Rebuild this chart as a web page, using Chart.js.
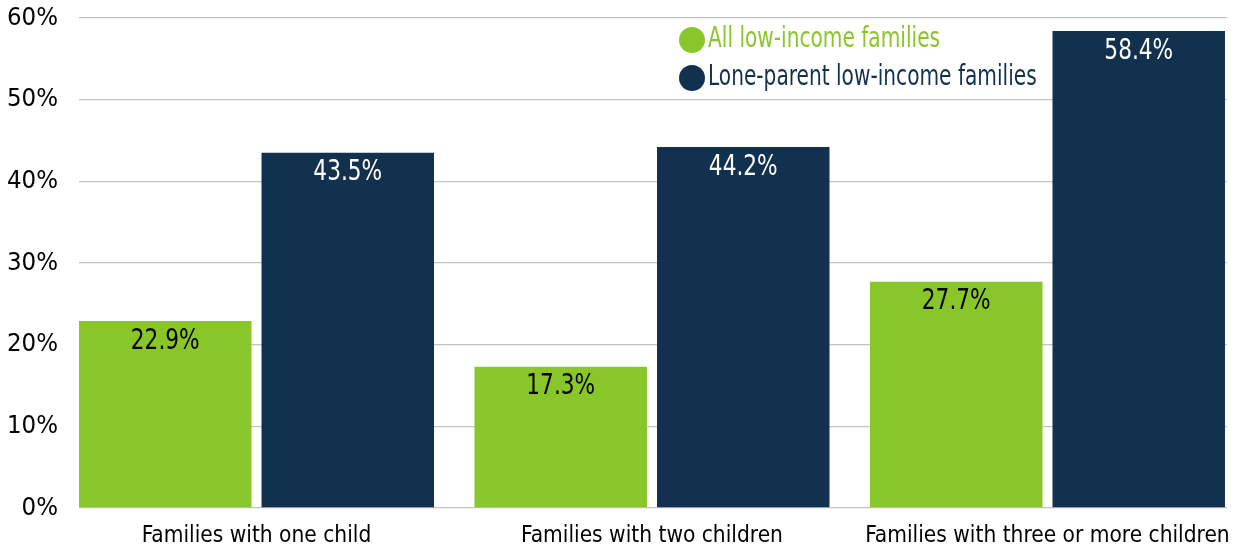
<!DOCTYPE html>
<html><head><meta charset="utf-8">
<script src="https://cdn.jsdelivr.net/npm/chart.js@4/dist/chart.umd.min.js"></script>
<style>html,body{margin:0;padding:0;background:#fff}#wrap{width:1239px;height:552px}</style>
</head><body><div id="wrap"><canvas id="c" width="1239" height="552"></canvas></div>
<script>
const categories = ["Families with one child", "Families with two children", "Families with three or more children"];
const seriesNames = ["All low-income families", "Lone-parent low-income families"];
const allLowIncome = [22.9, 17.3, 27.7];
const loneParent = [43.5, 44.2, 58.4];
const yTicks = [0, 10, 20, 30, 40, 50, 60];

const FONT = '"Liberation Sans Narrow", "DejaVu Sans Condensed", "Roboto", sans-serif';
const GREEN = '#89C629';
const NAVY = '#12314F';

const toPts = arr => arr.map((v, i) => ({x: i, y: v}));

// draw text horizontally compressed so that it is tall and narrow
function narrowText(ctx, text, x, y, size, sx, align) {
  ctx.save();
  ctx.font = size + 'px ' + FONT;
  ctx.textAlign = align;
  ctx.textBaseline = 'middle';
  ctx.translate(x, y);
  ctx.scale(sx, 1);
  ctx.fillText(text, 0, 0);
  ctx.restore();
}

const labelPlugin = {
  id: 'barLabels',
  afterDatasetsDraw(chart) {
    const ctx = chart.ctx;
    chart.data.datasets.forEach((ds, di) => {
      const meta = chart.getDatasetMeta(di);
      meta.data.forEach((bar, i) => {
        ctx.fillStyle = di === 0 ? '#000000' : '#FFFFFF';
        narrowText(ctx, ds.data[i].y.toFixed(1) + '%', bar.x, bar.y + 20, 29, 0.83, 'center');
      });
    });
  }
};

const legendPlugin = {
  id: 'customLegend',
  afterDraw(chart) {
    const ctx = chart.ctx;
    const x0 = 692, ys = [40, 78];
    chart.data.datasets.forEach((ds, di) => {
      ctx.save();
      ctx.fillStyle = ds.backgroundColor;
      ctx.beginPath();
      ctx.arc(x0, ys[di], 13, 0, Math.PI * 2);
      ctx.fill();
      narrowText(ctx, ds.label, x0 + 16, ys[di], 28, 0.8, 'left');
      ctx.restore();
    });
  }
};

new Chart(document.getElementById('c'), {
  type: 'bar',
  data: {
    datasets: [
      {label: seriesNames[0], data: toPts(allLowIncome), backgroundColor: GREEN},
      {label: seriesNames[1], data: toPts(loneParent), backgroundColor: NAVY}
    ]
  },
  options: {
    responsive: false,
    animation: false,
    devicePixelRatio: 1,
    categoryPercentage: 0.923,
    barPercentage: 0.945,
    layout: {padding: {top: 18, right: 12, left: 0, bottom: 0}},
    plugins: {legend: {display: false}, tooltip: {enabled: false}},
    scales: {
      x: {
        type: 'linear',
        offset: false,
        grace: 0,
        min: -0.4488,
        max: 2.4539,
        grid: {display: false},
        border: {display: false},
        afterBuildTicks(axis) { axis.ticks = categories.map((c, i) => ({value: i})); },
        afterFit(axis) { axis.height = 44; axis.paddingLeft = 0; axis.paddingRight = 0; },
        ticks: {
          autoSkip: false,
          maxRotation: 0,
          padding: 7,
          color: '#000',
          font: {family: FONT, size: 22.5},
          callback: v => categories[v]
        }
      },
      y: {
        min: 0,
        max: 60,
        afterBuildTicks(axis) { axis.ticks = yTicks.map(v => ({value: v})); },
        afterFit(axis) { axis.width = 79; axis.paddingTop = 0; axis.paddingBottom = 0; },
        grid: {color: '#C4C4C4', lineWidth: 1.3, drawTicks: false},
        border: {display: false},
        ticks: {
          padding: 21,
          color: '#000',
          font: {family: FONT, size: 25.5},
          callback: v => v + '%'
        }
      }
    }
  },
  plugins: [labelPlugin, legendPlugin]
});
</script></body></html>
